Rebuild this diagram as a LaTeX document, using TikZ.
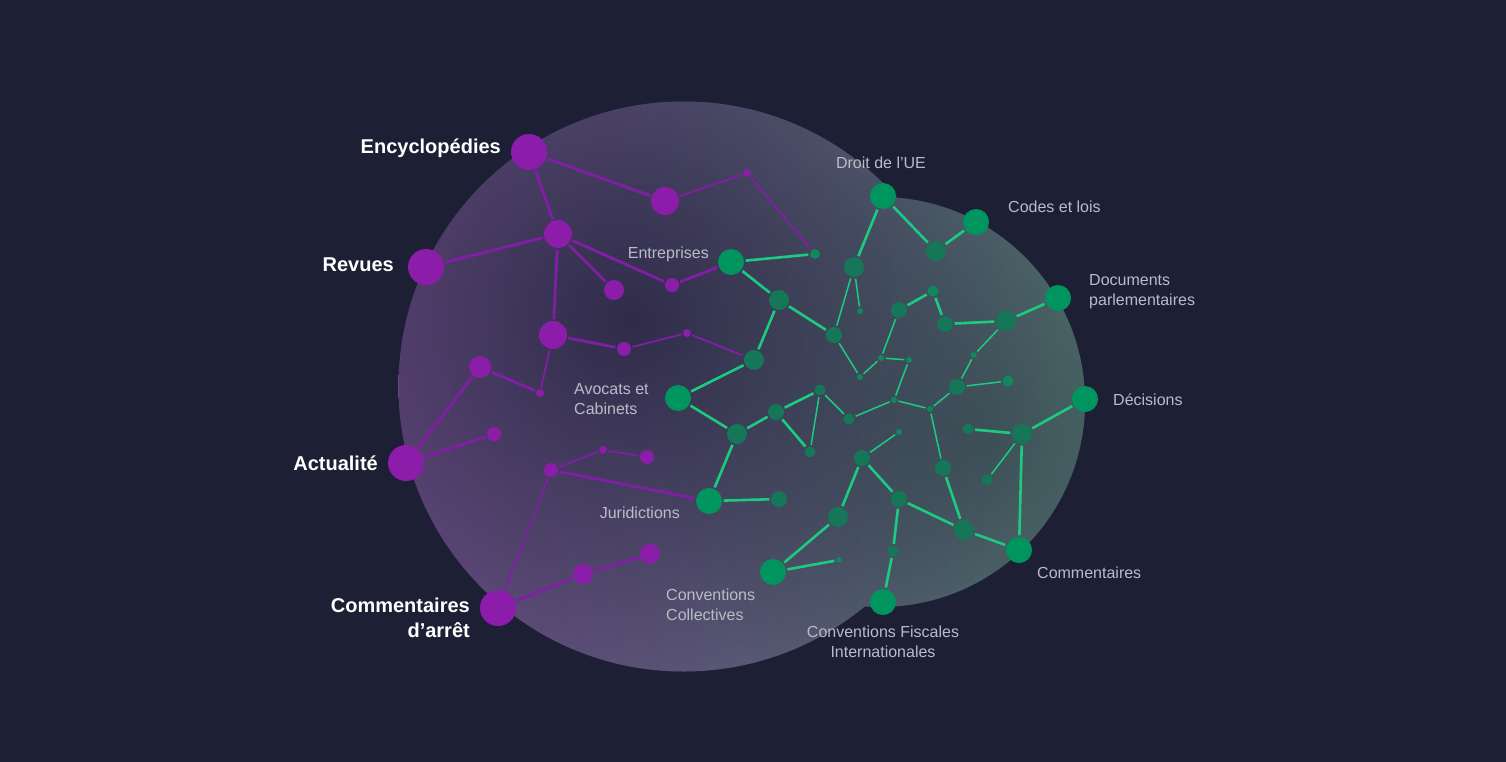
\documentclass[tikz,border=0pt]{standalone}
\usepackage{fontspec}
\setmainfont{Liberation Sans}
\usepackage{xcolor}
\usepackage{tikz}
\usetikzlibrary{fadings}

\definecolor{bgnavy}{RGB}{29,32,53}
\definecolor{blobpurple}{RGB}{110,76,136}
\definecolor{blobteal}{RGB}{84,116,114}
\definecolor{coredark}{RGB}{38,36,64}
\definecolor{tealcore}{RGB}{40,58,64}
\definecolor{pviolet}{RGB}{140,28,170}
\definecolor{plinecol}{RGB}{128,30,165}
\definecolor{gbright}{RGB}{0,148,94}
\definecolor{gmidcol}{RGB}{22,118,88}
\definecolor{gsmallcol}{RGB}{14,136,92}
\definecolor{glinecol}{RGB}{26,204,128}
\definecolor{labelgrey}{RGB}{185,188,200}

\pgfdeclarelayer{bg}
\pgfdeclarelayer{edges}
\pgfsetlayers{bg,edges,main}

\tikzfading[name=corefade, inner color=transparent!15, outer color=transparent!100]

\tikzset{
  pnode/.style={circle, fill=pviolet, inner sep=0pt, minimum size=#1},
  gnode/.style={circle, fill=gbright, inner sep=0pt, minimum size=26pt},
  gmid/.style={circle, fill=gmidcol, inner sep=0pt, minimum size=#1},
  gsmall/.style={circle, fill=gsmallcol, inner sep=0pt, minimum size=#1},
  link/.style={shorten <=1.5pt, shorten >=1.5pt},
  pline/.style={link, draw=plinecol, line width=2.8pt},
  pthin/.style={link, draw=plinecol, line width=1.8pt},
  gline/.style={link, draw=glinecol, line width=2.6pt},
  gthin/.style={link, draw=glinecol, line width=1.5pt},
  biglabel/.style={text=white, inner sep=0pt, font=\bfseries\fontsize{20}{25}\selectfont},
  smalllabel/.style={text=labelgrey, inner sep=0pt, font=\fontsize{16}{20}\selectfont}
}

\begin{document}
\begin{tikzpicture}[x=1pt, y=-1pt]
\useasboundingbox (0,0) rectangle (1506,762);

\begin{pgfonlayer}{bg}
\fill[bgnavy] (0,0) rectangle (1506,762);
% the blob
\begin{scope}
  \clip (683.5,386.5) circle[radius=285] (880,402) circle[radius=205];
  \shade[left color=blobpurple, right color=blobteal] (380,90) rectangle (1100,680);
  \fill[coredark, path fading=corefade] (630,320) circle[radius=430];
  \fill[tealcore, path fading=corefade, opacity=0.6] (985,440) circle[radius=320];
\end{scope}
\end{pgfonlayer}

% purple side
\node[pnode=36pt] (enc) at (529,152) {};
\node[pnode=28pt] (pa) at (665,201) {};
\node[pnode=8pt] (pb) at (747,173) {};
\node[pnode=28pt] (pc) at (558,234) {};
\node[pnode=36pt] (rev) at (426,267) {};
\node[pnode=20pt] (pd) at (614,290) {};
\node[pnode=14pt] (pe) at (672,285) {};
\node[pnode=28pt] (pf) at (553,335) {};
\node[pnode=14pt] (pg) at (624,349) {};
\node[pnode=8pt] (ph) at (687,333) {};
\node[pnode=22pt] (pi) at (480,367) {};
\node[pnode=8pt] (pj) at (540,393) {};
\node[pnode=36pt] (act) at (406,463) {};
\node[pnode=14pt] (pk) at (494,434) {};
\node[pnode=14pt] (pl) at (551,470) {};
\node[pnode=8pt] (pm) at (603,450) {};
\node[pnode=14pt] (pn) at (647,457) {};
\node[pnode=36pt] (com) at (498,608) {};
\node[pnode=20pt] (po) at (583,574) {};
\node[pnode=20pt] (pp) at (650,554) {};

% green side, labelled nodes
\node[gnode] (ue) at (883,196) {};
\node[gnode] (codes) at (976,222) {};
\node[gnode] (docs) at (1058,298) {};
\node[gnode] (dec) at (1085,399) {};
\node[gnode] (comm) at (1019,550) {};
\node[gnode] (fisc) at (883,602) {};
\node[gnode] (coll) at (773,572) {};
\node[gnode] (jur) at (709,501) {};
\node[gnode] (avo) at (678,398) {};
\node[gnode] (ent) at (731,262) {};

% green side, inner nodes
\node[gmid=20pt] (ga) at (936,251) {};
\node[gsmall=10pt] (gb) at (815,254) {};
\node[gmid=20pt] (gc) at (854,267) {};
\node[gmid=20pt] (gd) at (779,300) {};
\node[gsmall=6pt] (ge) at (860,311) {};
\node[gmid=16pt] (gf) at (834,335) {};
\node[gmid=20pt] (gg) at (754,360) {};
\node[gmid=16pt] (gh) at (899,310) {};
\node[gsmall=11pt] (gi) at (933,291) {};
\node[gmid=16pt] (gj) at (945,324) {};
\node[gmid=20pt] (gk) at (1006,321) {};
\node[gsmall=6pt] (gl) at (974,355) {};
\node[gsmall=6pt] (gm) at (881,358) {};
\node[gsmall=6pt] (gn) at (909,360) {};
\node[gsmall=6pt] (go) at (860,377) {};
\node[gmid=16pt] (gp) at (957,387) {};
\node[gsmall=11pt] (gq) at (1008,381) {};
\node[gmid=11pt] (gr) at (820,390) {};
\node[gmid=16pt] (gs) at (776,412) {};
\node[gmid=20pt] (gt) at (737,434) {};
\node[gmid=11pt] (gu) at (849,419) {};
\node[gmid=11pt] (gv) at (810,452) {};
\node[gsmall=6pt] (gw) at (894,400) {};
\node[gsmall=6pt] (gx) at (930,409) {};
\node[gmid=11pt] (gy) at (968,429) {};
\node[gmid=20pt] (gz) at (1022,434) {};
\node[gsmall=6pt] (gA) at (899,432) {};
\node[gmid=16pt] (gB) at (862,458) {};
\node[gmid=16pt] (gC) at (943,468) {};
\node[gmid=11pt] (gD) at (987,480) {};
\node[gmid=16pt] (gE) at (779,499) {};
\node[gmid=16pt] (gF) at (899,499) {};
\node[gmid=20pt] (gG) at (838,517) {};
\node[gmid=20pt] (gH) at (964,530) {};
\node[gmid=11pt] (gI) at (893,551) {};
\node[gsmall=6pt] (gJ) at (839,560) {};

\begin{pgfonlayer}{edges}
  % purple links
  \foreach \a/\b in {enc/pa, enc/pc, pc/rev, pc/pd, pc/pe, pc/pf, pf/pg, pi/act, act/pk,
                     pi/pj, com/po, po/pp, pl/jur, pe/ent}
    \draw[pline] (\a) -- (\b);
  \foreach \a/\b in {pa/pb, pb/gb, pg/ph, ph/gg, pf/pj, pl/pm, pm/pn, pl/com}
    \draw[pthin] (\a) -- (\b);
  % green links
  \foreach \a/\b in {ent/gb, ent/gd, gd/gf, gd/gg, gg/avo, avo/gt, gt/gs, gs/gr, gt/jur,
                     jur/gE, ue/gc, ue/ga, ga/codes, gk/docs, gz/dec, gz/comm, gH/comm,
                     gB/gF, gF/gH, gG/coll, gB/gG, gF/gI, gI/fisc, gC/gH, gy/gz, gj/gk,
                     gh/gi, gi/gj, gs/gv, coll/gJ}
    \draw[gline] (\a) -- (\b);
  \foreach \a/\b in {gc/gf, gc/ge, gf/go, go/gm, gm/gh, gm/gn, gn/gw, gw/gu, gu/gr, gr/gv,
                     gw/gx, gx/gp, gp/gq, gk/gl, gl/gp, gx/gC, gA/gB, gz/gD}
    \draw[gthin] (\a) -- (\b);
\end{pgfonlayer}

% labels
\node[biglabel, anchor=base east] (encl) at (501,154) {Encyclopédies};
\node[biglabel, anchor=base east] (revl) at (394,271) {Revues};
\node[biglabel, anchor=base east] (actl) at (378,470) {Actualité};
\node[biglabel, anchor=base east, align=right] (coml) at (470,637) {Commentaires\\d’arrêt};
\node[smalllabel, anchor=base east] (entl) at (709,258) {Entreprises};
\node[smalllabel, anchor=base west, align=left] (avol) at (574,414) {Avocats et\\Cabinets};
\node[smalllabel, anchor=base east] (jurl) at (680,518) {Juridictions};
\node[smalllabel, anchor=base west, align=left] (colll) at (666,620) {Conventions\\Collectives};
\node[smalllabel, anchor=base] (uel) at (881,169) {Droit de l’UE};
\node[smalllabel, anchor=base west] (codesl) at (1008,212) {Codes et lois};
\node[smalllabel, anchor=base west, align=left] (docsl) at (1089,305) {Documents\\parlementaires};
\node[smalllabel, anchor=base west] (decl) at (1113,405) {Décisions};
\node[smalllabel, anchor=base west] (comml) at (1037,578) {Commentaires};
\node[smalllabel, anchor=base, align=center] (fiscl) at (883,657) {Conventions Fiscales\\Internationales};
\end{tikzpicture}
\end{document}
